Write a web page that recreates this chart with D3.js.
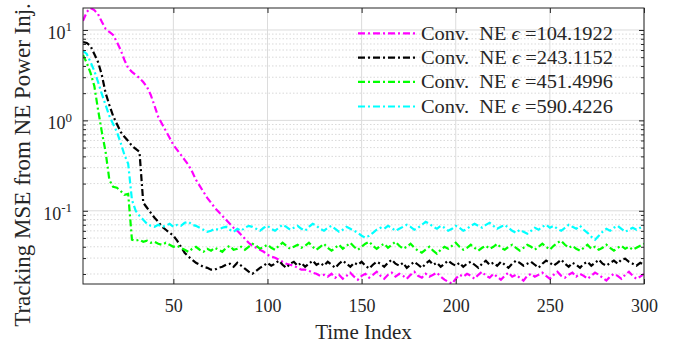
<!DOCTYPE html>
<html><head><meta charset="utf-8">
<script src="https://cdn.jsdelivr.net/npm/d3@7"></script>
<style>
body{margin:0;background:#fff}
text{font-family:"Liberation Serif","Times New Roman",serif;fill:#262626}
</style>
</head><body><svg id="c" width="685" height="349"></svg>
<script>
// ---- data ----
const timeIndex = d3.range(2, 301, 2); // sampled time indices 2,4,...,300
const legendEps = ["104.1922", "243.1152", "451.4996", "590.4226"];
const seriesColors = ["#ff00ff", "#000000", "#00ff00", "#00ffff"];

const mse104 = [12.6,15.8,17.5,16.6,15.0,12.3,10.3,9.5,8.81,7.36,6.01,4.66,3.80,3.44,3.18,2.95,2.66,2.34,1.91,1.45,
  1.09,0.914,0.766,0.641,0.536,0.472,0.416,0.366,0.322,0.270,0.220,0.189,0.162,0.139,0.123,0.108,0.0975,0.0880,0.0796,0.0718,
  0.0649,0.0601,0.0543,0.0491,0.0443,0.0410,0.0390,0.0371,0.0352,0.0327,0.0311,0.0303,0.0288,0.0273,0.0260,0.0253,0.0247,0.0234,0.0223,0.0223,
  0.0217,0.0207,0.0201,0.0191,0.0196,
  0.0187,0.0201,0.0182,0.0196,0.0177,0.0191,0.0207,0.0187,0.0173,0.0191,
  0.0201,0.0182,0.0196,0.0212,0.0191,0.0177,0.0196,0.0207,0.0187,0.0201,
  0.0191,0.0177,0.0196,0.0212,0.0191,0.0182,0.0201,0.0187,0.0196,0.0207,
  0.0187,0.0173,0.0164,0.0156,0.0177,0.0196,0.0187,0.0201,0.0191,0.0177,
  0.0196,0.0212,0.0191,0.0182,0.0201,0.0187,0.0173,0.0191,0.0207,0.0187,
  0.0196,0.0182,0.0169,0.0191,0.0201,0.0187,0.0196,0.0207,0.0191,0.0177,
  0.0196,0.0212,0.0191,0.0182,0.0196,0.0207,0.0187,0.0201,0.0191,0.0177,
  0.0191,0.0207,0.0196,0.0182,0.0169,0.0187,0.0201,0.0191,0.0177,0.0196,
  0.0212,0.0191,0.0177,0.0187,0.0201];

const mse243 = [7.36,7.18,6.65,5.43,4.42,3.18,2.01,1.48,1.12,0.914,
  0.746,0.658,0.593,0.523,0.484,0.449,0.123,0.108,0.0950,0.0837,
  0.0755,0.0665,0.0617,0.0571,0.0530,0.0467,0.0400,0.0344,0.0311,0.0288,
  0.0266,0.0253,0.0240,0.0234,0.0223,0.0223,0.0234,0.0240,0.0253,
  0.0260,0.0240,0.0266,0.0247,0.0229,0.0212,0.0201,0.0217,0.0234,0.0247,
  0.0266,0.0247,0.0260,0.0281,0.0253,0.0234,0.0260,0.0273,0.0247,0.0266,
  0.0240,0.0260,0.0281,0.0253,0.0266,0.0247,0.0273,0.0253,0.0234,0.0260,
  0.0281,0.0260,0.0240,0.0266,0.0253,0.0273,0.0247,0.0229,0.0253,0.0273,
  0.0260,0.0240,0.0266,0.0288,0.0260,0.0247,0.0266,0.0234,0.0253,0.0273,
  0.0253,0.0234,0.0260,0.0281,0.0253,0.0266,0.0240,0.0260,0.0281,0.0260,
  0.0247,0.0266,0.0240,0.0260,0.0273,0.0253,0.0234,0.0260,0.0281,0.0253,
  0.0266,0.0247,0.0273,0.0253,0.0234,0.0260,0.0281,0.0266,0.0247,0.0260,
  0.0273,0.0253,0.0234,0.0260,0.0281,0.0266,0.0247,0.0266,0.0288,0.0260,
  0.0240,0.0266,0.0253,0.0234,0.0260,0.0273,0.0247,0.0266,0.0288,0.0260,
  0.0247,0.0266,0.0281,0.0260,0.0288,0.0295,0.0273,0.0260,0.0247,0.0266,
  0.0253];

const mse451 = [5.30,4.32,3.35,2.41,1.31,0.746,0.449,0.220,0.184,0.180,0.166,0.150,0.154,
  0.0479,0.0467,0.0479,0.0454,0.0467,0.0443,0.0454,0.0432,0.0421,0.0443,
  0.0421,0.0400,0.0410,0.0390,0.0371,0.0352,0.0380,0.0400,0.0371,0.0352,
  0.0380,0.0362,0.0390,0.0371,0.0352,0.0390,0.0410,0.0371,0.0380,0.0400,
  0.0371,0.0400,0.0432,0.0410,0.0380,0.0400,0.0421,0.0390,0.0371,0.0410,
  0.0443,0.0410,0.0380,0.0400,0.0421,0.0390,0.0410,0.0443,0.0400,0.0371,
  0.0400,0.0432,0.0390,0.0362,0.0390,0.0421,0.0380,0.0410,0.0443,0.0400,
  0.0371,0.0400,0.0432,0.0454,0.0410,0.0380,0.0410,0.0432,0.0390,0.0421,
  0.0454,0.0410,0.0380,0.0400,0.0432,0.0390,0.0362,0.0344,0.0371,0.0400,
  0.0362,0.0335,0.0371,0.0400,0.0380,0.0410,0.0443,0.0400,0.0371,0.0390,
  0.0421,0.0390,0.0362,0.0390,0.0410,0.0380,0.0400,0.0432,0.0390,0.0371,
  0.0400,0.0421,0.0390,0.0362,0.0390,0.0421,0.0400,0.0371,0.0400,0.0432,
  0.0400,0.0371,0.0410,0.0443,0.0467,0.0421,0.0390,0.0410,0.0380,0.0362,
  0.0390,0.0421,0.0380,0.0400,0.0371,0.0390,0.0421,0.0390,0.0362,0.0390,
  0.0410,0.0380,0.0400,0.0371,0.0390,0.0410,0.0432];

const mse590 = [5.86,5.43,4.42,3.53,2.66,1.96,1.48,1.12,0.914,0.746,0.564,0.416,0.331,0.132,0.100,0.0880,0.0796,
  0.0718,0.0682,0.0665,0.0700,0.0665,0.0682,0.0718,0.0665,0.0700,0.0682,
  0.0737,0.0755,0.0700,0.0682,0.0649,0.0617,0.0586,0.0601,0.0632,0.0617,
  0.0649,0.0665,0.0617,0.0586,0.0632,0.0601,0.0649,0.0682,0.0665,0.0632,
  0.0601,0.0649,0.0682,0.0632,0.0601,0.0649,0.0700,0.0665,0.0617,0.0649,
  0.0682,0.0632,0.0601,0.0665,0.0718,0.0682,0.0632,0.0601,0.0649,0.0682,
  0.0632,0.0586,0.0617,0.0665,0.0632,0.0601,0.0571,0.0530,0.0504,0.0530,
  0.0571,0.0617,0.0649,0.0632,0.0682,0.0649,0.0601,0.0632,0.0665,0.0700,
  0.0665,0.0617,0.0649,0.0700,0.0755,0.0718,0.0665,0.0632,0.0682,0.0649,
  0.0601,0.0632,0.0682,0.0649,0.0601,0.0632,0.0682,0.0718,0.0682,0.0649,
  0.0700,0.0737,0.0682,0.0632,0.0665,0.0700,0.0649,0.0601,0.0571,0.0617,
  0.0586,0.0557,0.0601,0.0649,0.0617,0.0665,0.0700,0.0649,0.0682,0.0632,
  0.0601,0.0649,0.0700,0.0665,0.0632,0.0682,0.0617,0.0571,0.0517,0.0479,
  0.0530,0.0586,0.0632,0.0601,0.0649,0.0682,0.0632,0.0586,0.0617,0.0649,
  0.0617,0.0649,0.0682];

const xTickValues = [50, 100, 150, 200, 250, 300];
const yTickValues = [0.1, 1, 10];
const yTickExponents = ["-1", "0", "1"];
const yMinorTicks = [0.02,0.03,0.04,0.05,0.06,0.07,0.08,0.09,0.2,0.3,0.4,0.5,0.6,0.7,0.8,0.9,2,3,4,5,6,7,8,9];
const xLabel = "Time Index";
const yLabel = "Tracking MSE from NE Power Inj.";
const allSeries = [mse104, mse243, mse451, mse590];

// ---- layout ----
const L = 83, R = 644, T = 8, B = 284;
const svg = d3.select("#c");
const x = d3.scaleLinear().domain([2, 300]).range([L, R]);
const y = d3.scaleLog().domain([0.0155, 17.5]).range([B, T]);

// grid
const g = svg.append("g");
g.selectAll(".ymin").data(yMinorTicks).join("line")
  .attr("x1", L).attr("x2", R).attr("y1", d => y(d)).attr("y2", d => y(d))
  .attr("stroke", "#cfcfcf").attr("stroke-width", 0.8).attr("stroke-dasharray", "1.5,2");
g.selectAll(".ymaj").data(yTickValues).join("line")
  .attr("x1", L).attr("x2", R).attr("y1", d => y(d)).attr("y2", d => y(d))
  .attr("stroke", "#dcdcdc").attr("stroke-width", 1);
g.selectAll(".xmaj").data(xTickValues).join("line")
  .attr("y1", T).attr("y2", B).attr("x1", d => x(d)).attr("x2", d => x(d))
  .attr("stroke", "#dcdcdc").attr("stroke-width", 1);

// data lines
svg.append("clipPath").attr("id", "clip").append("rect")
  .attr("x", L).attr("y", T).attr("width", R - L).attr("height", B - T);
const line = d3.line().x((d, i) => x(timeIndex[i])).y(d => y(d));
svg.append("g").attr("clip-path", "url(#clip)")
  .selectAll("path").data(allSeries).join("path")
  .attr("d", line).attr("fill", "none")
  .attr("stroke", (d, i) => seriesColors[i]).attr("stroke-width", 2.2)
  .attr("stroke-dasharray", "7,3,2,3");

// axes
function styleAxis(sel) {
  sel.select(".domain").remove();
  sel.selectAll("line").attr("stroke", "#262626");
}
svg.append("g").attr("transform", `translate(0,${B})`)
  .call(d3.axisBottom(x).tickValues(xTickValues).tickSize(-5).tickFormat(d3.format("d")))
  .call(styleAxis)
  .call(s => s.selectAll("text").attr("y", 28).attr("dy", null)
    .style("font-family", "'Liberation Serif',serif").style("font-size", "18px").attr("fill", "#262626"));
svg.append("g").attr("transform", `translate(0,${T})`)
  .call(d3.axisTop(x).tickValues(xTickValues).tickSize(-5).tickFormat(""))
  .call(styleAxis);
svg.append("g").attr("transform", `translate(${L},0)`)
  .call(d3.axisLeft(y).tickValues(yTickValues).tickSize(-5).tickFormat(""))
  .call(styleAxis);
svg.append("g").attr("transform", `translate(${L},0)`)
  .call(d3.axisLeft(y).tickValues(yMinorTicks).tickSize(-3).tickFormat(""))
  .call(styleAxis);
svg.append("g").attr("transform", `translate(${R},0)`)
  .call(d3.axisRight(y).tickValues(yTickValues).tickSize(-5).tickFormat(""))
  .call(styleAxis);
svg.append("g").attr("transform", `translate(${R},0)`)
  .call(d3.axisRight(y).tickValues(yMinorTicks).tickSize(-3).tickFormat(""))
  .call(styleAxis);

// y tick labels with superscripts
const yl = svg.append("g").selectAll("text").data(yTickValues).join("text")
  .attr("x", 72).attr("y", d => y(d) + 9).attr("text-anchor", "end")
  .style("font-size", "18px");
yl.append("tspan").text("10");
yl.append("tspan").attr("dy", -7.5).style("font-size", "13px").text((d, i) => yTickExponents[i]);

// box
svg.append("rect").attr("x", L).attr("y", T).attr("width", R - L).attr("height", B - T)
  .attr("fill", "none").attr("stroke", "#262626").attr("stroke-width", 1);

// axis labels
svg.append("text").attr("x", (L + R) / 2).attr("y", 339).attr("text-anchor", "middle")
  .style("font-size", "21px").text(xLabel);
svg.append("text").attr("transform", "translate(30,165) rotate(-90)").attr("text-anchor", "middle")
  .style("font-size", "23px").text(yLabel);

// legend
const rowY = [33.3, 57.7, 81.9, 106.5];
const lg = svg.append("g");
legendEps.forEach((ev, i) => {
  lg.append("line").attr("x1", 358).attr("x2", 415).attr("y1", rowY[i]).attr("y2", rowY[i])
    .attr("stroke", seriesColors[i]).attr("stroke-width", 2.2).attr("stroke-dasharray", "7,3,2,3");
  const t = lg.append("text").attr("x", 421).attr("y", rowY[i] + 6.5).style("font-size", "19px")
    .attr("xml:space", "preserve").style("white-space", "pre")
    .attr("textLength", 192).attr("lengthAdjust", "spacingAndGlyphs");
  t.append("tspan").text("Conv.  NE ");
  t.append("tspan").style("font-style", "italic").text("\u03F5");
  t.append("tspan").text(" =" + ev);
});
</script>
</body></html>
